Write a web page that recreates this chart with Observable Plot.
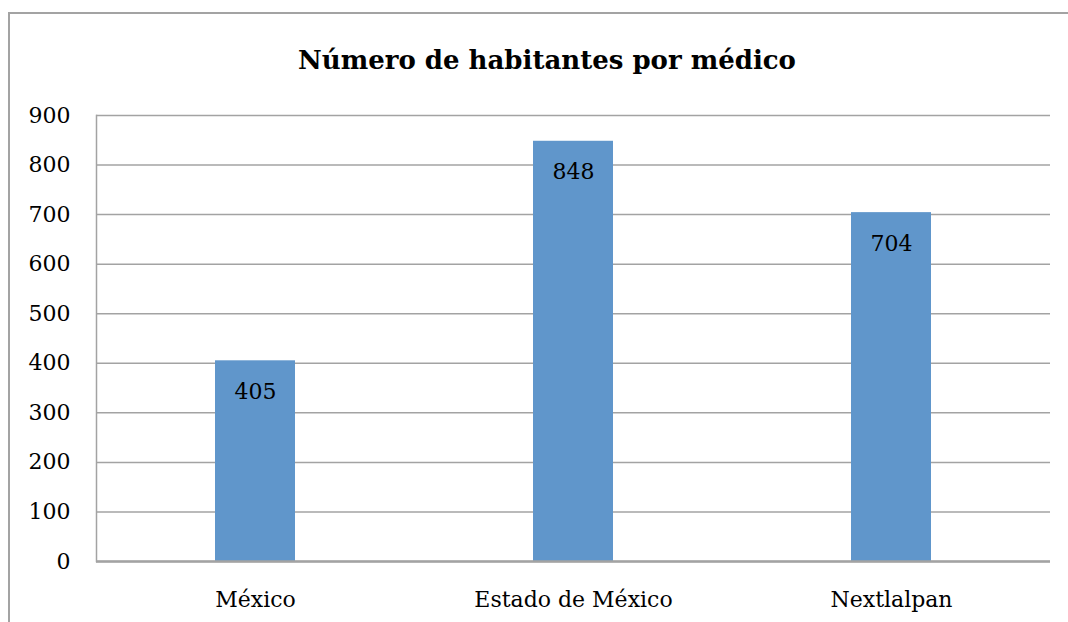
<!DOCTYPE html>
<html>
<head>
<meta charset="utf-8">
<script src="https://cdn.jsdelivr.net/npm/d3@7"></script>
<script src="https://cdn.jsdelivr.net/npm/@observablehq/plot@0.6"></script>
<style>
  html, body { margin: 0; padding: 0; background: #fff; overflow: hidden; width: 1068px; height: 622px; }
  #frame { position: absolute; left: 8px; top: 12px; width: 1100px; height: 700px; border: 2px solid #a3a3a3; box-sizing: border-box; }
  #wrap { position: absolute; left: 0; top: 0; width: 1068px; }
  #title { height: 95px; padding-top: 25px; line-height: 70px; text-align: center; font-family: "DejaVu Serif", serif; font-weight: bold; font-size: 26px; color: #000; padding-left: 26px; box-sizing: border-box; }
  svg { display: block; }
</style>
</head>
<body>
<div id="frame"></div>
<div id="wrap">
  <div id="title">Número de habitantes por médico</div>
  <div id="chart"></div>
</div>
<script>
const categories = ["México", "Estado de México", "Nextlalpan"];
const values = [405, 848, 704];
const yTicks = [0, 100, 200, 300, 400, 500, 600, 700, 800, 900];

const data = categories.map((c, i) => ({category: c, value: values[i]}));

const chart = Plot.plot({
  width: 1068,
  height: 527,
  marginTop: 20,
  marginBottom: 61,
  marginLeft: 96,
  marginRight: 18,
  style: { fontFamily: "DejaVu Serif, serif", fontSize: "22px", color: "#000", background: "transparent" },
  x: { domain: categories, paddingInner: 0.748, paddingOuter: 0.374, label: null, tickSize: 0 },
  y: { domain: [0, 900], ticks: yTicks, label: null, tickSize: 0 },
  marks: [
    Plot.gridY(yTicks, { stroke: "#a3a3a3", strokeOpacity: 1, strokeWidth: 1.5 }),
    Plot.frame({ anchor: "left", stroke: "#a3a3a3", strokeWidth: 1.5 }),
    Plot.barY(data, { x: "category", y: "value", fill: "#6096cb" }),
    Plot.ruleY([0], { stroke: "#a3a3a3", strokeWidth: 2.5 }),
    Plot.text(data, { x: "category", y: "value", text: d => String(d.value), dy: 31, fill: "#000", fontSize: 22, lineAnchor: "middle" }),
    Plot.axisY(yTicks, { tickSize: 0, tickPadding: 26, fontSize: 22 }),
    Plot.axisX({ tickSize: 0, tickPadding: 30, fontSize: 22 })
  ]
});
document.getElementById("chart").appendChild(chart);
</script>
</body>
</html>
